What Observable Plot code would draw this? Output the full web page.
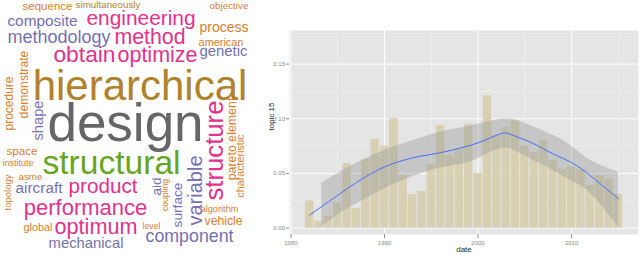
<!DOCTYPE html>
<html><head><meta charset="utf-8">
<script src="https://cdn.jsdelivr.net/npm/d3@7"></script>
<script src="https://cdn.jsdelivr.net/npm/@observablehq/plot@0.6"></script>
<style>
html,body{margin:0;padding:0;background:#fff;}
#wrap{display:flex;width:640px;height:254px;overflow:hidden;}
#cloud{width:258px;height:254px;}
#chart{width:382px;height:254px;}
</style></head><body><div id="wrap"><div id="cloud"></div><div id="chart"></div></div>
<script>
// ---- word cloud data ----
const words = ["sequence","simultaneously","objective","composite","engineering","process","methodology","method","american","obtain","optimize","genetic","hierarchical","design","space","institute","structural","asme","aircraft","product","performance","algorithm","vehicle","global","optimum","level","component","mechanical",
  "demonstrate","procedure","shape","structure","pareto element","characteristic","topology","aid","coupling","surface","variable"];
const wordWeights = [11.5,9.8,9.9,15.4,20.9,14,18,21.3,10.9,22.8,21.5,14.9,42,53,11.6,9,33.6,9.8,15.4,20.7,22,9.2,12.2,10.9,21.6,8.8,17.8,14.8,
  12.2,12,14.7,25.7,12.4,10.7,9.5,13.5,8.6,13.7,20];
// frequency class of each word (1 = rarest ... 6 = most frequent)
const wordGroups = ["c1","c5","c1","c2","c3","c1","c2","c3","c1","c3","c3","c2","c5","c6","c1","c1","c4","c1","c2","c3","c3","c1","c1","c1","c3","c1","c2","c2",
  "c1","c1","c2","c3","c1","c1","c1","c2","c1","c2","c2"];
const wordVertical = [0,0,0,0,0,0,0,0,0,0,0,0,0,0,0,0,0,0,0,0,0,0,0,0,0,0,0,0, 1,1,1,1,1,1,1,1,1,1,1];
// cloud layout (placement of each word in the cloud)
const cloudLayout = [[47,9],[107.5,7],[228.5,8.7],[42,25.3],[140.5,24.3],[223.5,31],[58.5,42.7],[149.5,43.3],[220.5,45],[84,61],[157,61],[223,55],[139.5,99.3],[125,140.3],[21.5,154.3],[17.5,165.3],[111,173.7],[30,179.3],[38.5,192.7],[102.5,192.7],[85,214.3],[219,211.3],[223,224.3],[37.5,230.3],[95.5,233],[151,228.7],[189,241],[85.5,247.7],
  [23.5,84],[8.5,103],[37.5,120],[214.5,150],[232,138.5],[240.5,165.5],[7,192],[156,186],[165,194.5],[177.5,204.5],[195,190]];
const groupNames = ["c1","c2","c3","c4","c5","c6"];
const groupColors = ["#d7802f","#7570b3","#e2328c","#66a61e","#b0822c","#666666"];

// ---- chart data ----
const years = d3.range(1982, 2016);
const topicValues = [0.025,0.0064,0.0107,0.023,0.059,0.018,0.063,0.081,0.075,0.100,0.048,0.0305,0.0335,0.058,0.094,0.066,0.072,0.095,0.050,0.121,0.085,0.092,0.098,0.075,0.069,0.080,0.062,0.054,0.056,0.054,0.039,0.048,0.045,0.031];
const smoothYears = [1982,1984,1986,1988,1990,1992,1994,1996,1998,2000,2002,2003,2004,2006,2008,2010,2012,2014,2015];
const smoothValues = [0.012,0.024,0.036,0.047,0.056,0.062,0.066,0.069,0.073,0.078,0.085,0.087,0.084,0.077,0.068,0.060,0.048,0.034,0.027];
const bandYears = [1983.3,1985,1987,1990,1993,1996,1999,2001,2003,2005,2008,2010,2012,2015];
const bandUpper = [0.041,0.050,0.059,0.071,0.080,0.088,0.093,0.097,0.100,0.096,0.085,0.075,0.062,0.051];
const bandLower = [0.001,0.012,0.022,0.036,0.047,0.055,0.060,0.068,0.073,0.066,0.053,0.043,0.032,0.001];
const yTicks = [0, 0.05, 0.10, 0.15];
const yMinor = [0.025, 0.075, 0.125, 0.175];
const xTicks = [1980, 1990, 2000, 2010];
const xMinor = [1985, 1995, 2005, 2015];

const font = "Liberation Sans, Arial, Helvetica, sans-serif";

// build cloud table
const cloud = words.map((w, i) => ({text: w, size: wordWeights[i], group: wordGroups[i], vertical: wordVertical[i], px: cloudLayout[i][0], py: cloudLayout[i][1]}));

const cloudPlot = Plot.plot({
  width: 258, height: 254, margin: 0,
  style: {fontFamily: font, background: "white", overflow: "visible"},
  x: {domain: [0, 258], range: [0, 258], axis: null},
  y: {domain: [0, 254], range: [0, 254], axis: null},
  color: {type: "ordinal", domain: groupNames, range: groupColors},
  marks: [
    Plot.text(cloud.filter(d => !d.vertical), {x: "px", y: "py", text: "text", fontSize: "size", fill: "group", textAnchor: "middle", lineAnchor: "bottom", fontFamily: font}),
    Plot.text(cloud.filter(d => d.vertical), {x: "px", y: "py", text: "text", fontSize: "size", fill: "group", textAnchor: "middle", lineAnchor: "middle", rotate: -90, fontFamily: font})
  ]
});
document.getElementById("cloud").appendChild(cloudPlot);

const bars = years.map((y, i) => ({year: y, value: topicValues[i]}));
const smooth = smoothYears.map((y, i) => ({year: y, value: smoothValues[i]}));
const band = bandYears.map((y, i) => ({year: y, upper: bandUpper[i], lower: bandLower[i]}));

const chart = Plot.plot({
  width: 382, height: 254,
  marginLeft: 31, marginRight: 2, marginTop: 30, marginBottom: 20,
  style: {fontFamily: font, background: "white", overflow: "visible"},
  x: {domain: [1979.85, 2017.15]},
  y: {domain: [-0.0058, 0.1807]},
  marks: [
    Plot.frame({fill: "#e5e5e5", stroke: null}),
    Plot.gridX(xMinor, {stroke: "#f2f2f2", strokeOpacity: 1, strokeWidth: 0.5}),
    Plot.gridY(yMinor, {stroke: "#f2f2f2", strokeOpacity: 1, strokeWidth: 0.5}),
    Plot.gridX(xTicks, {stroke: "#ffffff", strokeOpacity: 1, strokeWidth: 1}),
    Plot.gridY(yTicks, {stroke: "#ffffff", strokeOpacity: 1, strokeWidth: 1}),
    Plot.rectY(bars, {x1: d => d.year - 0.45, x2: d => d.year + 0.45, y: "value", fill: "#d8d0b2"}),
    Plot.areaY(band, {x: "year", y1: "lower", y2: "upper", fill: "#999999", fillOpacity: 0.4, curve: "natural"}),
    Plot.line(smooth, {x: "year", y: "value", stroke: "#3366ff", strokeWidth: 0.9, curve: "natural"}),
    Plot.axisY(yTicks, {tickFormat: d3.format(".2f"), fontSize: 6, tickSize: 3, tickPadding: 1.5, color: "#8a8a8a", stroke: "#8a8a8a", label: null}),
    Plot.axisX(xTicks, {tickFormat: d => String(d), fontSize: 6, tickSize: 4, tickPadding: 2.5, color: "#8a8a8a", stroke: "#8a8a8a", label: null}),
    Plot.text(["topic 15"], {frameAnchor: "left", dx: -18, dy: -2, rotate: -90, fontSize: 8, fill: "#222"}),
    Plot.text(["date"], {frameAnchor: "bottom", dy: 17, fontSize: 8, fill: "#222"})
  ]
});
document.getElementById("chart").appendChild(chart);
</script></body></html>
